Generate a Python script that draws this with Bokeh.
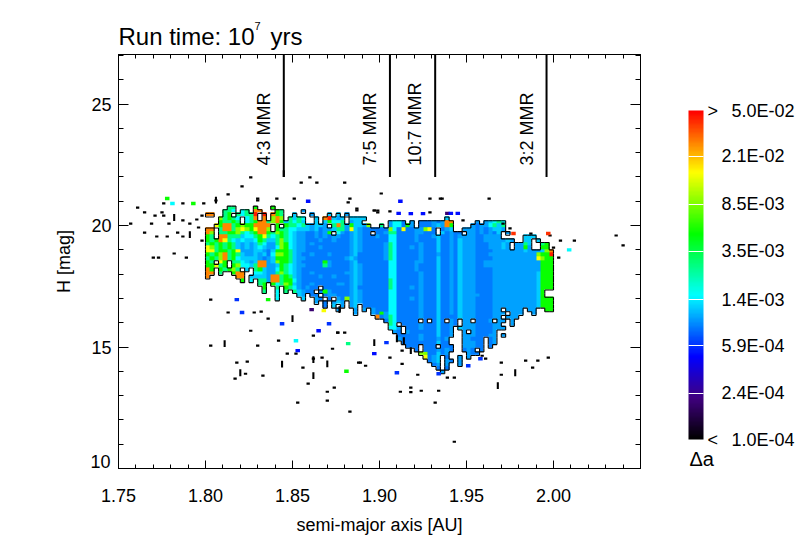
import numpy as np
from bokeh.plotting import figure
from bokeh.models import (LinearAxis, FixedTicker, Range1d, LogColorMapper, ColorBar,
                          ColumnDataSource)
from bokeh.core.properties import value
from bokeh.embed import file_html
from bokeh.resources import INLINE

FONT = "Liberation Sans"
x_ticks = [1.75, 1.80, 1.85, 1.90, 1.95, 2.00]
x_minor = [round(1.75 + 0.01 * i, 2) for i in range(31)]
y_ticks = [10, 15, 20, 25]
y_minor = list(range(10, 28))
resonances = [1.845, 1.906, 1.932, 1.996]
res_names = ["4:3 MMR", "7:5 MMR", "10:7 MMR", "3:2 MMR"]
bar_ticks = [2.4e-4, 5.9e-4, 1.4e-3, 3.5e-3, 8.5e-3, 2.1e-2]
bar_names = ["2.4E-04", "5.9E-04", "1.4E-03", "3.5E-03", "8.5E-03", "2.1E-02"]

# level of the Delta-a colour scale held in each cell
level_value = {"a": 6.4e-4, "b": 8.3e-4, "c": 9.8e-4, "d": 1.2e-3, "e": 1.5e-3, "f": 2.7e-3,
               "g": 5.0e-3, "h": 8.8e-3, "i": 1.5e-2, "j": 2.7e-2, "l": 4.4e-2}
grid_a0, grid_da = 1.80, 0.0025
grid_H0, grid_dH = 20.8, 0.15
D = ".........."
grid_rows = [
 ".....ff... .g...g.... "+" ".join([D]*6),
 "....ffe.ef .jj...gf.. ..c....... "+" ".join([D]*5),
 "jj..fg.fef fl.l.jgf.. d...c...d. d.c....... "+" ".join([D]*4),
 "...hfgfe.e fj.j.hjh.f dfe..d.jld cd.dddd... "+D+" .....d.... "+D+" "+D,
 "...gffgf.e fgjjfhjgdf efd..d.dge ef.cdd.... ..ceeb.c.b bbcbcjj... ..c.cdefe. "+D,
 "..igjjfghg gjjjj.g.gf fefdcddc.f jfcgddch.. f.ceebgc.b bbcdcjg... .cbccefdf. "+D,
 "jj.fjjfhih gijjh.gffe edddcdbccd ffcidcbbbb bbhebibbcc hib.bcd..c ccbcbcddc. "+D,
 "jh.ffgghfe fgjjgfhgfe dccbbcbcg. ecbcdcbb.b bcffbbbbcc bbb.dbcbb. ccbcbcbd.c "+D,
 "gf.jjfffde efgifefgfe dccbbcbcbc cbbcdcbbbc bbeebbbbcb bbcdbbcbcc ccbbcccc.. ...ddd....",
 "gfgjifeded degfddfhfe dccbbbcbbc bbbcdcbbbb bbeebbbbcb bbbdbbcbdc ccbbcccccd c..dd.d...",
 "fgfgfgfdcd cdfeccfhge dccbcbbbbb bbbcdcbbbb bcfebbbbbc bbbdbbcbdc ccbbbcccdc .ccfd..fg.",
 "ihfgfgfdcd cdedccehge dccbbbcbbb bbbcdcbbbb bcfebbbcbc bbbdbbcbdc ccbbbcccdc .ccgc..gg.",
 "iifggfgicc cddcbdgggf dccbbbbbbb bbbcdcbbbb bcfebbbbbc bbbdbbcbdc ccbbbbcccc cccdcccdhj",
 "gfghjfgfdc cdcdbehhgf dcbbcbbbcb bbbcdbbbbb bcfebbbbbc bbbcbbcbdc ccbbbccccc cccccchggl",
 "fgfhjfgedd ddcbcdgggf dccbbbbbbb bbcdcbbbbb bcfebbbbbc bbbdbbcbdc ccbbbbcccc ccccccihgg",
 "gf.ig.ffed cdjjcdhggf dcbbbbbgcb bbbcdbbbbb bbeebbbbcc bbbdbbcbdc ccbbcccccc cccccccggg",
 "ggifg.ghee dfjjccdgfe dccbbbbfcb bbbcdcbbbb bbeebbbbcb bbbdbbcbdc ccbbcccccc cccccccggg",
 "jg.gfghf.d .fgdccegfe dcbbbbbbbb bbbcdcbbbb bbeebbbbcb bbbdbbcbdc ccbbbbcccc cccccccggg",
 "jj.f..gjj. .eedccfhfe dcbbcbbbbb bbccdcbbbb bbeebbbbbc bbbdbbcbdc ccbbbbcccc ccccccdggg",
 "j......jj. ddddcjjfgf dcbbbbcbbc bbbcdcbbbb bbeebbbbbc bbbdbbcbdc ccbbbbcccc ccccccdggg",
 "........g. e.ffcjjfgg ecbbbbbbbb bbbcdcbbbb bbfebbbbbc bbbdbbcbdc ccbbbbcccc ccccccdggg",
 D+" ..fg.gefhg dcbbcbbbbb ccbcdcbbbb bbfebbbbbc bbbdbbcbdc ccbbbbcccc ccccccdggg",
 D+" ...g..f.gf ecbcbb.bbb bbbcdbbbbb bbfebbbcbc bbbdbbcbdc ccbbbbcccc ccccccdggg",
 D+" ...f..e.f. fdcbb.bgcb bbbcdcbbbb bbeebbbbbc bbbdbbcbdc ccbbbbcccc ccccccdg..",
 D+" ......e... .dc.bb.bcc bbbcdcbbbb bbeebbbbbc bbbdbbcbdc cccbbbcccc ccccccdg..",
 D+" ......e... ..d..cb.b. cbhcdcbbbb bbeebbbcbc bbbdbbcbdc ccbbbbcccc ccccccdggg",
 D+" "+D+" .....c.b.c dc.cdcbbbb bbeebbbbbc bbbdbbcbdc ccbbbbcccc ccccccdggg",
 D+" "+D+" .......b.d .c.cd.bbbb bbeebbbbbc bbbdbbcbdc ccbbbbcccc ccccccdggg",
 D+" "+D+" "+D+" c...c.c.cb bbeebbbbbc bbbdbbcbdc ccbbbbcc.c ccc.cc..gg",
 D+" "+D+" "+D+" ....c...cb gceebbbbbc bbbdbbcbdc ccbbbbccc. ccc..c....",
 D+" "+D+" "+D+" .........j bcfebbbbbc bbbdbbbbdc ccbbbbcc.c cc........",
 D+" "+D+" "+D+" "+D+" .bfebbbbb. b.bdb.cb.c c.bbbc.cc. c.........",
 D+" "+D+" "+D+" "+D+" ..fe.bbbbc bbbdbbcb.c ccbbbbcc.. c.........",
 D+" "+D+" "+D+" "+D+" ..eec.bbbc bbbdbbc.dc ccbbbbccc. "+D,
 D+" "+D+" "+D+" "+D+" ...cb.cbbb bbbdbbc..c .cbbbbc... "+D,
 D+" "+D+" "+D+" "+D+" ....bbbbbc bbbdbbc..c ccbbbcc.c. "+D,
 D+" "+D+" "+D+" "+D+" ....cbbbbc bbbcbc...c cbbb.bc... "+D,
 D+" "+D+" "+D+" "+D+" .....bbbbb bbbdbb...c ccbb.bc... "+D,
 D+" "+D+" "+D+" "+D+" ......bbb. bbb.bbb..c ccbb.b.... "+D,
 D+" "+D+" "+D+" "+D+" ........b. bbbcbcb..b cb.b...... "+D,
 D+" "+D+" "+D+" "+D+" .........h hbbdbc.... cbb....... "+D,
 D+" "+D+" "+D+" "+D+" "+D+" ibcd.b..c. c......... "+D,
 D+" "+D+" "+D+" "+D+" "+D+" .bcd.cb.c. "+D+" "+D,
 D+" "+D+" "+D+" "+D+" "+D+" ..bc.c..c. "+D+" "+D,
 D+" "+D+" "+D+" "+D+" "+D+" ...b.b.... "+D+" "+D,
 D+" "+D+" "+D+" "+D+" "+D+" ....c..... "+D+" "+D,
 " ".join([D]*8),
 " ".join([D]*8),
]

# isolated small black cells
dot_a = [1.776,1.787,1.799,1.761,1.765,1.775,1.771,1.776,1.798,1.787,1.795,1.757,1.769,1.779,1.791,1.796,
         1.765,1.784,1.787,1.772,1.778,1.798,1.782,1.770,1.773,1.789,
         1.803,1.803,1.826,1.813,1.828,1.832,1.836,1.817,1.823,1.833,1.824,1.818,1.847,1.852,1.830,1.842,
         1.862,1.867,1.856,1.859,1.874,1.870,1.876,1.880,1.862,1.888,1.876,1.889,1.892,1.873,
         1.906,1.913,1.913,1.918,1.922,1.934,1.939,1.943,1.959,1.961,1.970,1.984,1.988,1.991,1.997,1.970,1.918,1.912,
         1.830,1.841,1.851,1.855,1.860,1.864,1.880,1.882,1.883,1.887,1.897,1.899,1.901,1.906,1.929,1.935,1.936,1.948,
         1.963,1.971,1.975,1.987,1.998,2.000,2.003,2.004,1.806,1.826,1.821,1.830,1.813,2.040,2.036,2.012,
         1.853,1.870,1.883,1.943,1.932,1.924,1.897,1.887,1.899,1.929]
dot_H = [20.91,20.91,20.91,20.74,20.54,20.54,20.41,20.41,20.41,20.21,20.25,20.08,20.08,20.08,20.08,19.92,
         19.71,19.71,19.55,19.55,19.55,19.38,18.85,18.68,18.68,18.68,
         16.95,15.06,15.67,16.42,16.42,16.46,16.17,13.70,13.90,13.82,14.40,14.36,14.73,14.73,15.06,15.26,
         14.52,14.56,14.15,13.49,13.33,13.16,15.59,15.59,15.47,14.36,15.59,14.36,14.23,14.93,
         14.56,14.85,14.31,13.14,13.86,13.20,13.74,13.74,14.64,14.52,14.36,14.44,14.15,14.44,14.56,13.86,13.33,13.16,
         21.11,21.11,21.11,21.77,21.98,21.77,21.77,20.95,21.11,20.70,20.62,20.62,21.32,20.58,21.11,21.11,21.11,20.21,
         21.11,20.08,19.88,19.67,19.59,19.09,18.68,19.38,21.03,21.98,21.61,21.03,21.28,19.18,19.59,19.38,
         12.71,12.79,12.34,11.10,12.71,13.20,20.62,20.62,20.54,20.54]

# isolated taller black cells
bar_a = [1.806,1.845,1.782,1.791,1.811,1.820,1.844,1.862,1.870,1.862,1.850,1.877,1.897,1.910,1.914,1.918,1.968,1.978]
bar_H = [21.05,22.14,20.33,19.63,15.14,13.94,14.30,14.48,14.31,13.82,16.17,16.54,15.18,15.34,15.26,14.85,13.41,13.94]

# isolated cells that carry a colour
spot_a = [1.778,1.793,1.781,1.821,1.818,1.844,1.865,1.852,1.853,1.897,1.882,1.868,1.861,1.871,1.910,1.904,
          1.934,1.951,1.958,1.912,1.939,1.945,1.911,1.918,1.925,1.941,1.977,1.881,1.836,1.997,2.009,1.859]
spot_H = [21.11,20.91,20.91,16.42,16.95,15.96,15.67,15.26,14.85,14.73,15.14,16.50,16.54,15.96,13.94,15.18,
          13.90,14.23,14.52,21.00,20.50,20.50,20.50,20.49,20.49,20.50,19.67,14.00,16.95,19.67,19.0,21.0]
spot_v = [5e-3,5e-3,1.5e-3,6e-4,6e-4,6e-4,5e-4,1.5e-3,5e-4,5e-4,2.7e-3,1.5e-2,2.0e-4,6e-4,6e-4,6e-4,
          6e-4,6e-4,6e-4,5e-4,2.0e-4,5e-4,5e-4,5e-4,5e-4,5e-4,4e-2,5e-3,5e-3,4e-2,1.5e-3,5e-4]

stops = [(0.0, (0, 0, 0)), (0.125, (64, 0, 128)), (0.25, (0, 0, 255)), (0.4375, (0, 255, 255)),
         (0.625, (0, 255, 0)), (0.8125, (255, 255, 0)), (1.0, (255, 0, 0))]
fr = [s[0] for s in stops]
palette = []
for t in np.linspace(0, 1, 256):
    rgb = [int(round(np.interp(t, fr, [s[1][k] for s in stops]))) for k in range(3)]
    palette.append("#%02x%02x%02x" % tuple(rgb))
mapper = LogColorMapper(palette=palette, low=1.0e-4, high=5.0e-2, low_color="#000000",
                        high_color="#ff0000", nan_color="#ffffff")

rows = [r.replace(" ", "") for r in grid_rows]
n_rows, n_cols = len(rows), max(len(r) for r in rows)
cells = np.full((n_rows, n_cols), np.nan)
for j, r in enumerate(rows):
    for i, ch in enumerate(r):
        if ch in level_value:
            cells[j, i] = level_value[ch]

p = figure(frame_width=522, frame_height=414, output_backend="svg", toolbar_location=None,
           x_range=Range1d(1.75, 2.05), y_range=Range1d(10.0, 27.04),
           min_border_left=118, min_border_right=160, min_border_top=54, min_border_bottom=74,
           background_fill_color="white", outline_line_color="black")
p.grid.visible = False

p.image(image=[cells[::-1]], x=grid_a0, y=grid_H0 - n_rows * grid_dH,
        dw=n_cols * grid_da, dh=n_rows * grid_dH, color_mapper=mapper)

# black rim where the filled area meets the empty one
xs, ys = [], []
filled = ~np.isnan(cells)
for j in range(n_rows):
    for i in range(n_cols):
        if not filled[j, i]:
            continue
        xl, xr = grid_a0 + i * grid_da, grid_a0 + (i + 1) * grid_da
        yt, yb = grid_H0 - j * grid_dH, grid_H0 - (j + 1) * grid_dH
        if i == 0 or not filled[j, i - 1]:
            xs.append([xl, xl]); ys.append([yb, yt])
        if i == n_cols - 1 or not filled[j, i + 1]:
            xs.append([xr, xr]); ys.append([yb, yt])
        if j == 0 or not filled[j - 1, i]:
            xs.append([xl, xr]); ys.append([yt, yt])
        if j == n_rows - 1 or not filled[j + 1, i]:
            xs.append([xl, xr]); ys.append([yb, yb])
p.multi_line(xs, ys, line_color="black", line_width=1.1)

p.rect(dot_a, dot_H, width=0.0019, height=0.09, fill_color="black", line_color=None)
p.rect(bar_a, bar_H, width=0.0012, height=0.28, fill_color="black", line_color=None)
src = ColumnDataSource(dict(a=spot_a, H=spot_H, v=spot_v))
p.rect("a", "H", width=0.0026, height=0.14, source=src, line_color=None,
       fill_color={"field": "v", "transform": mapper})

for a, name in zip(resonances, res_names):
    p.line([a, a], [22.0, 27.04], line_color="black", line_width=2)
    p.text([a - 0.0115], [22.47], text=[name], angle=np.pi / 2, text_align="left",
           text_baseline="middle", text_font=value(FONT), text_font_size="18px", text_color="black")


def style(ax, major, minor, in_major, in_minor, standoff):
    ax.ticker = FixedTicker(ticks=major, minor_ticks=minor)
    ax.axis_line_color = "black"
    ax.major_tick_in, ax.major_tick_out = in_major, 0
    ax.minor_tick_in, ax.minor_tick_out = in_minor, 0
    ax.major_tick_line_color = "black"
    ax.minor_tick_line_color = "black"
    ax.major_label_text_font = FONT
    ax.major_label_text_font_size = "18px"
    ax.major_label_text_color = "black"
    ax.major_label_standoff = standoff


xa = p.xaxis[0]
ya = p.yaxis[0]
style(xa, x_ticks, x_minor, 8, 4, 20)
style(ya, y_ticks, y_minor, 10, 5, 7)
xa.major_label_overrides = {t: "%.2f" % t for t in x_ticks}
ya.major_label_overrides = {10: "", 15: "15", 20: "20", 25: "25"}
xa.axis_label = "semi-major axis [AU]"
ya.axis_label = "H [mag]"
for ax in (xa, ya):
    ax.axis_label_text_font = FONT
    ax.axis_label_text_font_style = "normal"
    ax.axis_label_text_font_size = "18px"
    ax.axis_label_text_color = "black"
xa.axis_label_standoff = 10
ya.axis_label_standoff = 14

top = LinearAxis()
style(top, x_ticks, x_minor, 8, 4, 0)
top.major_label_overrides = {t: "" for t in x_ticks}
p.add_layout(top, "above")
right = LinearAxis()
style(right, y_ticks, y_minor, 10, 5, 0)
right.major_label_overrides = {t: "" for t in y_ticks}
p.add_layout(right, "right")

cb = ColorBar(color_mapper=mapper, ticker=FixedTicker(ticks=bar_ticks), location=(570, 29), width=15,
              height=329, margin=0, padding=0, bar_line_color=None, major_tick_line_color="white",
              major_tick_in=15, major_tick_out=0, minor_tick_line_color=None, label_standoff=18,
              major_label_overrides=dict(zip(bar_ticks, bar_names)), major_label_text_font=FONT,
              major_label_text_font_size="18px", major_label_text_color="black",
              background_fill_color=None, border_line_color=None)
p.add_layout(cb, "center")

MID = float(np.sqrt(1.0e-4 * 5.0e-2))


def put(text, px, py, size="18px"):
    # an invisible colour bar: its one tick label may sit outside the frame, which a Label may not
    # px: left edge of the text from the frame's left; py: text middle from the frame's bottom
    p.add_layout(ColorBar(color_mapper=mapper, ticker=FixedTicker(ticks=[MID]), location=(px - 1, py - 10),
                          width=1, height=20, margin=0, padding=0, scale_alpha=0.0, bar_line_color=None,
                          major_tick_line_color=None, minor_tick_line_color=None, label_standoff=0,
                          major_label_overrides={MID: text}, major_label_text_font=FONT,
                          major_label_text_font_size=size, major_label_text_color="black",
                          background_fill_color=None, border_line_color=None), "center")


put("10", -28, 7)
put("Run time: 10", 0, 432, size="24px")
put("7", 136, 443, size="11px")
put("yrs", 152, 432, size="24px")
put("5.0E-02", 613, 358)
put("1.0E-04", 613, 29)
put(">", 589, 358)
put("<", 589, 29)
put("\u0394a", 571, 10, size="20px")

open("out.html", "w").write(file_html(p, INLINE))
